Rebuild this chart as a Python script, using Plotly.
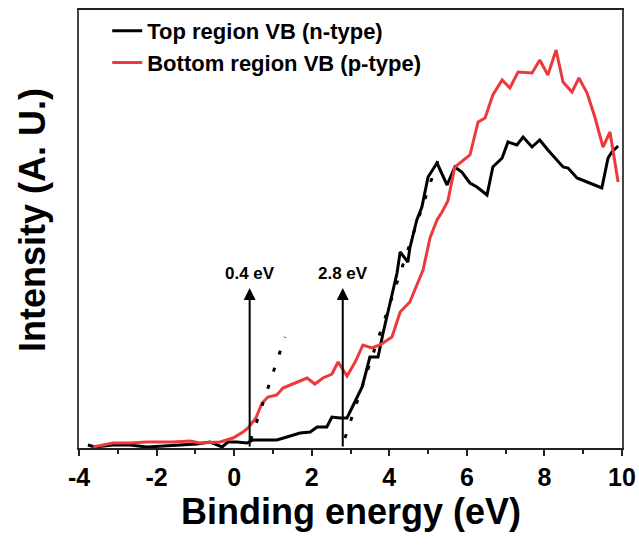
import plotly.graph_objects as go

# ---- data ----
top_energy = [-3.77, -3.59, -3.12, -2.69, -2.25, -1.83, -1.40, -0.96, -0.62, -0.31, -0.16, 0.07,
              0.33, 0.49, 0.85, 1.10, 1.36, 1.70, 1.96, 2.14, 2.39, 2.52, 2.73, 2.91, 3.06, 3.30,
              3.50, 3.71, 3.84, 4.02, 4.20, 4.28, 4.48, 4.53, 4.71, 4.84, 5.00, 5.23, 5.49, 5.69,
              5.87, 6.08, 6.26, 6.52, 6.67, 6.91, 7.06, 7.29, 7.45, 7.68, 7.88, 8.09, 8.32, 8.48,
              8.61, 8.84, 9.10, 9.48, 9.64, 9.74, 9.90]
top_intensity = [3, 1, 3, 3, 1, 2, 3, 4, 6, 1, 6, 6,
                 5, 8, 8, 8, 11, 15, 16, 21, 21, 31, 30, 30, 42, 61,
                 91, 91, 115, 145, 175, 196, 186, 200, 228, 241, 271, 285, 263, 281,
                 276, 265, 261, 253, 281, 290, 306, 303, 311, 301, 308, 298, 288, 281,
                 280, 270, 266, 260, 290, 296, 302]

bottom_energy = [-3.64, -3.12, -2.69, -2.25, -1.58, -1.14, -0.88, -0.36, -0.03, 0.23, 0.36, 0.56,
                 0.72, 0.87, 1.10, 1.26, 1.57, 1.88, 2.08, 2.29, 2.52, 2.68, 2.91, 3.12, 3.32,
                 3.55, 3.76, 4.07, 4.28, 4.53, 4.87, 5.05, 5.23, 5.36, 5.51, 5.69, 6.08, 6.29,
                 6.47, 6.67, 6.91, 7.11, 7.32, 7.68, 7.88, 8.09, 8.30, 8.48, 8.71, 8.89, 9.10,
                 9.30, 9.51, 9.69, 9.90]
bottom_intensity = [1, 5, 5, 6, 6, 7, 5, 6, 10, 16, 20, 30,
                    45, 51, 53, 60, 65, 70, 64, 70, 74, 86, 72, 86, 103,
                    100, 103, 111, 136, 146, 178, 210, 228, 236, 247, 281, 293, 326,
                    330, 353, 368, 360, 376, 375, 388, 373, 398, 366, 356, 370, 355,
                    331, 301, 316, 266]

# linear extrapolations of the leading edges (start, end)
tangent_p_energy = [0.28, 1.31]
tangent_p_intensity = [-9, 111]
tangent_n_energy = [2.71, 5.36]
tangent_n_intensity = [-7, 300]

# band-edge markers
edge_values = [0.4, 2.8]
edge_labels = ["0.4 eV", "2.8 eV"]
arrow_top = 160
label_level = 175

x_ticks = [-4, -2, 0, 2, 4, 6, 8, 10]
x_tick_labels = ["-4", "-2", "0", "2", "4", "6", "8", "10"]

x_title = "Binding energy (eV)"
y_title = "Intensity (A. U.)"

FONT = "Liberation Sans, Arial, sans-serif"
RED = "#EC3A3C"

fig = go.Figure()

fig.add_trace(go.Scatter(x=top_energy, y=top_intensity, mode="lines",
                         line=dict(color="black", width=3),
                         name="<b>Top region VB (n-type)</b>"))
fig.add_trace(go.Scatter(x=bottom_energy, y=bottom_intensity, mode="lines",
                         line=dict(color=RED, width=3),
                         name="<b>Bottom region VB (p-type)</b>"))

for ex, ey in [(tangent_p_energy, tangent_p_intensity), (tangent_n_energy, tangent_n_intensity)]:
    fig.add_trace(go.Scatter(x=ex, y=ey, mode="lines", showlegend=False,
                             line=dict(color="black", width=3, dash="4px,14px")))

# the part of each dotted line that pokes below the axis
fig.add_trace(go.Scatter(x=[tangent_p_energy[0], tangent_n_energy[0]],
                         y=[tangent_p_intensity[0], tangent_n_intensity[0]],
                         mode="markers", showlegend=False, cliponaxis=False,
                         marker=dict(symbol="line-ns", size=6, angle=18,
                                     line=dict(color="black", width=3))))

for v, lab in zip(edge_values, edge_labels):
    fig.add_annotation(x=v, y=arrow_top, ax=v, ay=0, xref="x", yref="y",
                       axref="x", ayref="y", text="", showarrow=True,
                       arrowhead=2, arrowsize=1.2, arrowwidth=2, arrowcolor="black")
    fig.add_annotation(x=v, y=label_level, xref="x", yref="y", text="<b>%s</b>" % lab,
                       showarrow=False, font=dict(family=FONT, size=17, color="black"),
                       xanchor="center", yanchor="middle")

# axis titles
fig.add_annotation(x=0.5, y=0, xref="paper", yref="paper", text="<b>%s</b>" % x_title,
                   showarrow=False, xanchor="center", yanchor="middle", yshift=-63,
                   font=dict(family=FONT, size=36, color="black"))
fig.add_annotation(x=0, y=0.5, xref="paper", yref="paper", text="<b>%s</b>" % y_title,
                   showarrow=False, xanchor="center", yanchor="middle", textangle=-90,
                   xshift=-47, yshift=9,
                   font=dict(family=FONT, size=36, color="black"))

fig.update_layout(
    width=639, height=550,
    margin=dict(l=79, r=17, t=10, b=102, autoexpand=False),
    plot_bgcolor="white", paper_bgcolor="white",
    font=dict(family=FONT, color="black"),
    legend=dict(x=0.052, y=1.0, xanchor="left", yanchor="top",
                bgcolor="rgba(0,0,0,0)", font=dict(family=FONT, size=22, color="black"),
                tracegroupgap=0),
    xaxis=dict(range=[-4, 10], tickvals=x_ticks, automargin=False,
               ticktext=["<b>%s</b>" % t for t in x_tick_labels],
               showgrid=False, zeroline=False, showline=True, linecolor="#222",
               linewidth=1.5, mirror=True, ticks="outside", ticklen=6, tickwidth=1.5,
               tickcolor="#222",
               minor=dict(dtick=1, ticks="outside", ticklen=4, tickwidth=1.5, tickcolor="#222"),
               tickfont=dict(family=FONT, size=25, color="black")),
    yaxis=dict(range=[0, 438], showgrid=False, zeroline=False, showline=True,
               automargin=False,
               linecolor="#444", linewidth=1.5, mirror=True, showticklabels=False,
               ticks=""),
)

fig.write_html("out.html", config={"displayModeBar": False},
               post_script="document.body.style.margin='0px';")
